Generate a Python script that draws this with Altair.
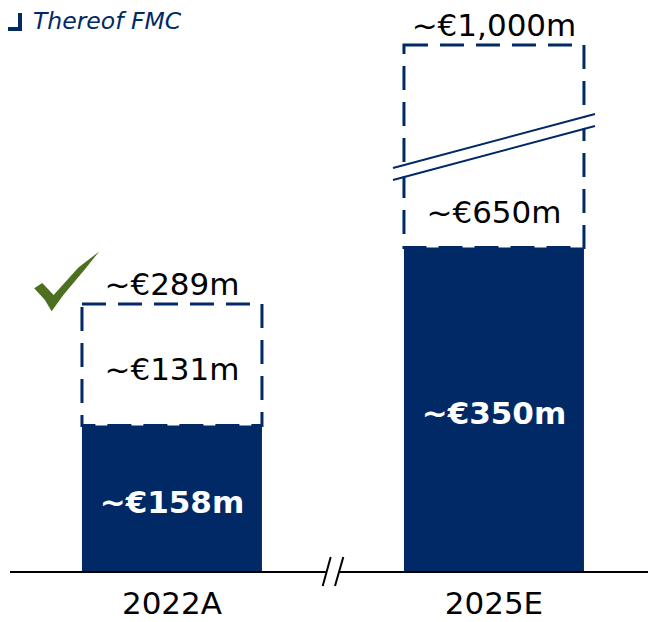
import altair as alt
import pandas as pd

# ---- data ----
categories = ["2022A", "2025E"]
fmc_values = [158, 350]          # filled part (Thereof FMC)
total_values = [289, 1000]       # dashed box top
fmc_labels = ["~€158m", "~€350m"]
open_labels = ["~€131m", "~€650m"]
total_labels = ["~€289m", "~€1,000m"]
legend_label = "Thereof FMC"

# ---- styling ----
NAVY = "#002965"
GREEN = "#4C701F"
FONT = "DejaVu Sans"
W, H = 640, 564
PX_PER_UNIT = 0.927
BREAK = 435                      # value where the y axis is broken
TOP_PX = 37                      # pixel position of 1,000 after the break
FS = 31

df = pd.DataFrame({
    "cat": categories,
    "fmc": fmc_values,
    "total": total_values,
    "fmc_label": fmc_labels,
    "open_label": open_labels,
    "total_label": total_labels,
})

x_scale = alt.Scale(domain=categories, paddingInner=0.441, paddingOuter=0.2143,
                    align=0.536)
y_scale = alt.Scale(domain=[0, BREAK, 1000],
                    range=[H, H - BREAK * PX_PER_UNIT, TOP_PX],
                    nice=False, zero=False)

X = alt.X("cat:N", scale=x_scale, sort=categories,
          axis=alt.Axis(title=None, domain=False, ticks=False, labelAngle=0,
                        labelFont=FONT, labelFontSize=FS, labelColor="black",
                        labelPadding=17))

base = alt.Chart(df)

boxes = base.mark_bar(fill="white", stroke=NAVY, strokeWidth=3,
                      strokeDash=[24, 12]).encode(
    x=X,
    y=alt.Y("total:Q", scale=y_scale, axis=None),
    y2="fmc:Q",
)

bars = base.mark_bar(color=NAVY).encode(
    x=X,
    y=alt.Y("fmc:Q", scale=y_scale, axis=None),
    y2=alt.Y2(datum=0),
)

fmc_text = base.transform_calculate(mid="datum.fmc / 2").mark_text(
    font=FONT, fontSize=FS, fontWeight="bold", color="white",
    baseline="alphabetic", dy=14,
).encode(x=X, y=alt.Y("mid:Q", scale=y_scale, axis=None), text="fmc_label:N")

open_text = base.transform_calculate(
    mid=f"(datum.fmc + min(datum.total, {BREAK})) / 2"
).mark_text(
    font=FONT, fontSize=FS, color="black", baseline="alphabetic", dy=15,
).encode(x=X, y=alt.Y("mid:Q", scale=y_scale, axis=None), text="open_label:N")

total_text = base.mark_text(
    font=FONT, fontSize=FS, color="black", baseline="alphabetic", dy=-9,
).encode(x=X, y=alt.Y("total:Q", scale=y_scale, axis=None), text="total_label:N")

one = alt.Chart(pd.DataFrame({"k": [0]}))

# break symbol on the 2025E bar
break_white = one.mark_rule(color="white", strokeWidth=10, strokeCap="butt").encode(
    x=alt.value(385), y=alt.value(166), x2=alt.value(587), y2=alt.value(112))
break_l1 = one.mark_rule(color=NAVY, strokeWidth=2).encode(
    x=alt.value(385), y=alt.value(160), x2=alt.value(587), y2=alt.value(106))
break_l2 = one.mark_rule(color=NAVY, strokeWidth=2).encode(
    x=alt.value(385), y=alt.value(172), x2=alt.value(587), y2=alt.value(118))

# baseline with axis break
baseline = one.mark_rule(color="black", strokeWidth=2).encode(
    x=alt.value(2), x2=alt.value(640), y=alt.Y(datum=0, scale=y_scale, axis=None))
gap = one.mark_rule(color="white", strokeWidth=6).encode(
    x=alt.value(318.5), x2=alt.value(330.5), y=alt.Y(datum=0, scale=y_scale, axis=None))
slash1 = one.mark_rule(color="black", strokeWidth=2).encode(
    x=alt.value(314.7), y=alt.value(578), x2=alt.value(322.7), y2=alt.value(549))
slash2 = one.mark_rule(color="black", strokeWidth=2).encode(
    x=alt.value(327), y=alt.value(578), x2=alt.value(335.3), y2=alt.value(549))

# legend (corner marker + italic text)
leg_v = one.mark_rule(color=NAVY, strokeWidth=4, strokeCap="butt").encode(
    x=alt.value(12), y=alt.value(5), y2=alt.value(23))
leg_h = one.mark_rule(color=NAVY, strokeWidth=4, strokeCap="butt").encode(
    x=alt.value(0), x2=alt.value(14), y=alt.value(21))
leg_text = alt.Chart(pd.DataFrame({"t": [legend_label]})).mark_text(
    font=FONT, fontSize=23.5, fontStyle="italic", color=NAVY, align="left",
    baseline="alphabetic",
).encode(x=alt.value(25), y=alt.value(21), text="t:N")

# green check mark
CHECK = ("M -1 0.216 L -0.753 0.052 L -0.402 0.423 L 0.361 -0.423 L 1 -0.918 "
         "L 0.567 -0.381 L -0.103 0.423 L -0.464 0.918 L -0.67 0.577 Z")
check = one.mark_point(shape=CHECK, filled=True, color=GREEN, opacity=1,
                       size=4225, strokeWidth=0).encode(
    x=alt.value(58.7), y=alt.value(273.3))

chart = alt.layer(
    boxes, bars, fmc_text, open_text, total_text,
    break_white, break_l1, break_l2,
    baseline, gap, slash1, slash2,
    leg_v, leg_h, leg_text, check,
).properties(
    width=W, height=H,
    autosize=alt.AutoSizeParams(type="none"),
    padding={"left": 0, "top": 0, "right": 0, "bottom": 50},
).configure_view(stroke=None)

chart.save("out.html", embed_options={"renderer": "svg", "actions": False})
